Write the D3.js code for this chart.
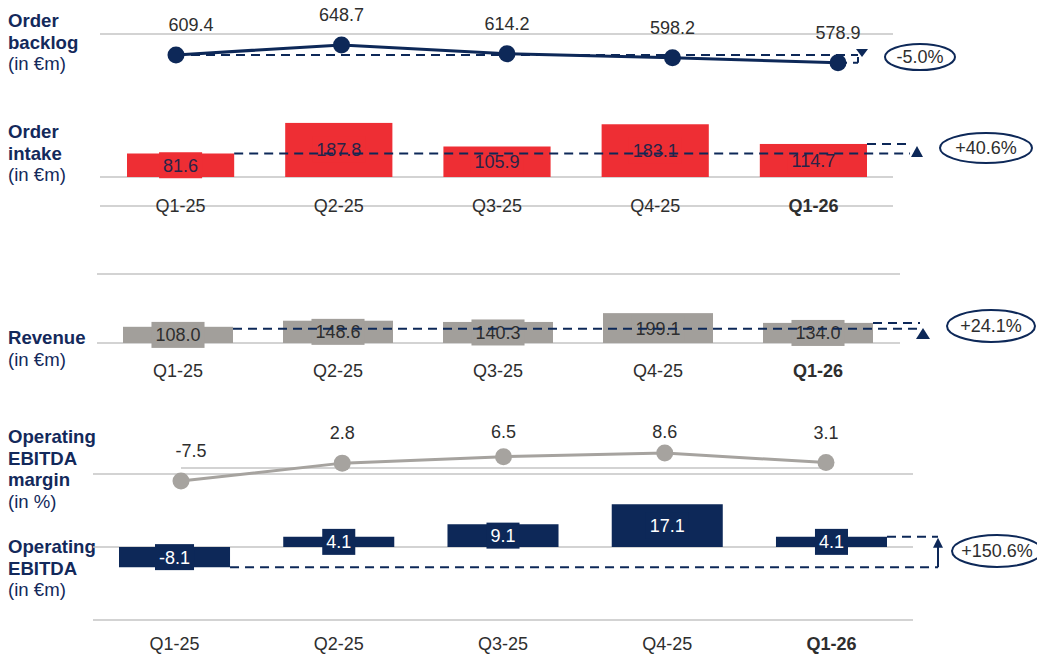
<!DOCTYPE html>
<html>
<head>
<meta charset="utf-8">
<script src="https://cdn.jsdelivr.net/npm/d3@7"></script>
<style>
  html, body { margin: 0; padding: 0; background: #fff; }
  svg { display: block; font-family: "Liberation Sans", Arial, sans-serif; }
</style>
</head>
<body>
<svg id="chart" width="1037" height="655"></svg>
<script>
// ---------------- DATA ----------------
const quarters = ["Q1-25", "Q2-25", "Q3-25", "Q4-25", "Q1-26"];
const orderBacklog = [609.4, 648.7, 614.2, 598.2, 578.9];
const orderIntake = [81.6, 187.8, 105.9, 183.1, 114.7];
const revenue = [108.0, 148.6, 140.3, 199.1, 134.0];
const ebitdaMargin = [-7.5, 2.8, 6.5, 8.6, 3.1];
const ebitda = [-8.1, 4.1, 9.1, 17.1, 4.1];
const changeLabels = ["-5.0%", "+40.6%", "+24.1%", "+150.6%"];
const rowTitles = [
  ["Order", "backlog", "(in €m)"],
  ["Order", "intake", "(in €m)"],
  ["Revenue", "(in €m)"],
  ["Operating", "EBITDA", "margin", "(in %)"],
  ["Operating", "EBITDA", "(in €m)"]
];

// ---------------- STYLE ----------------
const NAVY = "#0d2858", RED = "#ee2e34", GREY_BAR = "#a29f9b", GREY_LINE = "#a6a39f",
      RULE = "#c4c4c4", TXT = "#2e2e2e";
const FS = 18;
const svg = d3.select("#chart");
const fmt = v => v.toFixed(1);

function rule(x1, x2, y, w) {
  svg.append("line").attr("x1", x1).attr("x2", x2).attr("y1", y).attr("y2", y)
    .attr("stroke", RULE).attr("stroke-width", w || 1.6);
}
function dash(x1, y1, x2, y2) {
  svg.append("line").attr("x1", x1).attr("y1", y1).attr("x2", x2).attr("y2", y2)
    .attr("stroke", NAVY).attr("stroke-width", 2).attr("stroke-dasharray", "9,6");
}
function tri(cx, tip, base, hw) {
  svg.append("path").attr("d", `M${cx},${tip}L${cx - hw},${base}L${cx + hw},${base}Z`).attr("fill", NAVY);
}
function badge(cx, cy, rx, ry, text) {
  svg.append("ellipse").attr("cx", cx).attr("cy", cy).attr("rx", rx).attr("ry", ry)
    .attr("fill", "#fff").attr("stroke", NAVY).attr("stroke-width", 2);
  svg.append("text").attr("x", cx).attr("y", cy).attr("dy", "0.36em")
    .attr("text-anchor", "middle").attr("font-size", FS).attr("fill", TXT).text(text);
}
function titles(lines, y0) {
  const g = svg.append("g");
  lines.forEach((t, i) => {
    g.append("text").attr("x", 8).attr("y", y0 + i * 21.6)
      .attr("font-size", 18.6).attr("fill", "#13295b")
      .attr("font-weight", t.startsWith("(") ? "normal" : "bold").text(t);
  });
}
function categoryAxis(scale, y) {
  const g = svg.append("g").attr("transform", `translate(0,${y})`)
    .call(d3.axisBottom(scale).tickSize(0).tickPadding(0));
  g.select(".domain").remove();
  g.selectAll("text").attr("font-size", FS).attr("fill", TXT).attr("dy", 0)
    .attr("font-family", "Liberation Sans, Arial, sans-serif")
    .attr("font-weight", d => d === "Q1-26" ? "bold" : "normal");
}
function labelBoxes(data, xs, ys, fill, textFill) {
  const g = svg.append("g");
  data.forEach((v, i) => {
    const cx = xs(quarters[i]) + xs.bandwidth() / 2;
    const cy = (ys(v) + ys(0)) / 2;
    const t = g.append("text").attr("x", cx).attr("y", cy).attr("dy", "0.36em")
      .attr("text-anchor", "middle").attr("font-size", FS).attr("fill", textFill).text(fmt(v));
    const w = t.node().getComputedTextLength() + 8;
    g.insert("rect", "text").attr("x", cx - w / 2).attr("y", cy - 13).attr("width", w).attr("height", 26)
      .attr("fill", fill);
  });
  return g;
}

// ---------------- TITLES ----------------
titles(rowTitles[0], 27);
titles(rowTitles[1], 138);
titles(rowTitles[2], 344);
titles(rowTitles[3], 443);
titles(rowTitles[4], 553);

// ---------------- 1. ORDER BACKLOG ----------------
rule(100, 893, 34);
const xBl = d3.scalePoint().domain(quarters).range([176, 838]);
const yBl = d3.scaleLinear().domain([560, 660]).range([67.5, 42.1]);
dash(xBl(quarters[0]), yBl(orderBacklog[0]), 858, yBl(orderBacklog[0]));
dash(xBl(quarters[4]), yBl(orderBacklog[4]), 858, yBl(orderBacklog[4]));
dash(858, yBl(orderBacklog[0]) + 2, 858, yBl(orderBacklog[4]));
tri(862, 57, 49, 6);
svg.append("path").datum(orderBacklog)
  .attr("d", d3.line().x((d, i) => xBl(quarters[i])).y(d => yBl(d)))
  .attr("fill", "none").attr("stroke", NAVY).attr("stroke-width", 3);
svg.append("g").selectAll("circle").data(orderBacklog).join("circle")
  .attr("cx", (d, i) => xBl(quarters[i])).attr("cy", d => yBl(d)).attr("r", 8.5).attr("fill", NAVY);
svg.append("g").selectAll("text").data(orderBacklog).join("text")
  .attr("x", (d, i) => xBl(quarters[i]) + (i === 0 ? 15 : 0)).attr("y", d => yBl(d) - 24)
  .attr("text-anchor", "middle").attr("font-size", FS).attr("fill", TXT).text(d => fmt(d));
badge(920, 57, 35, 13, changeLabels[0]);

// ---------------- 2. ORDER INTAKE ----------------
const xIn = d3.scaleBand().domain(quarters).range([127, 867]).paddingInner(0.3225).paddingOuter(0);
const yIn = d3.scaleLinear().domain([0, 200]).range([177, 119.4]);
rule(100, 893, 177);
svg.append("g").selectAll("rect").data(orderIntake).join("rect")
  .attr("x", (d, i) => xIn(quarters[i])).attr("width", xIn.bandwidth())
  .attr("y", d => yIn(d)).attr("height", d => yIn(0) - yIn(d)).attr("fill", RED);
labelBoxes(orderIntake, xIn, yIn, RED, "#2a2347");
dash(xIn(quarters[0]) + xIn.bandwidth(), yIn(orderIntake[0]), 910, yIn(orderIntake[0]));
dash(xIn(quarters[4]) + xIn.bandwidth(), yIn(orderIntake[4]), 910, yIn(orderIntake[4]));
tri(917, 146, 157, 6);
badge(986, 148, 46, 15, changeLabels[1]);
rule(100, 893, 206);
categoryAxis(xIn, 212);

// ---------------- 3. REVENUE ----------------
const xRv = d3.scaleBand().domain(quarters).range([123, 873]).paddingInner(0.3125).paddingOuter(0);
const yRv = d3.scaleLinear().domain([0, 200]).range([343, 313]);
rule(97, 900, 274);
rule(97, 900, 343);
svg.append("g").selectAll("rect").data(revenue).join("rect")
  .attr("x", (d, i) => xRv(quarters[i])).attr("width", xRv.bandwidth())
  .attr("y", d => yRv(d)).attr("height", d => yRv(0) - yRv(d)).attr("fill", GREY_BAR);
labelBoxes(revenue, xRv, yRv, GREY_BAR, TXT);
dash(xRv(quarters[0]) + xRv.bandwidth(), yRv(revenue[0]) + 2, 920, yRv(revenue[0]) + 2);
dash(xRv(quarters[4]) + xRv.bandwidth(), yRv(revenue[4]), 920, yRv(revenue[4]));
tri(923, 328, 339, 7);
badge(991, 326, 44, 16, changeLabels[2]);
categoryAxis(xRv, 377);

// ---------------- 4. OPERATING EBITDA MARGIN ----------------
const xMg = d3.scalePoint().domain(quarters).range([181, 826]);
const yMg = d3.scaleLinear().domain([-10, 10]).range([485.4, 450.6]);
rule(93, 913, 474);
rule(xMg(quarters[0]), xMg(quarters[4]), yMg(0), 1.3);
svg.append("path").datum(ebitdaMargin)
  .attr("d", d3.line().x((d, i) => xMg(quarters[i])).y(d => yMg(d)))
  .attr("fill", "none").attr("stroke", GREY_LINE).attr("stroke-width", 3);
svg.append("g").selectAll("circle").data(ebitdaMargin).join("circle")
  .attr("cx", (d, i) => xMg(quarters[i])).attr("cy", d => yMg(d)).attr("r", 8.5).attr("fill", GREY_LINE);
svg.append("g").selectAll("text").data(ebitdaMargin).join("text")
  .attr("x", (d, i) => xMg(quarters[i]) + (i === 0 ? 10 : 0))
  .attr("y", d => Math.max(yMg(d) - 24, 438))
  .attr("text-anchor", "middle").attr("font-size", FS).attr("fill", TXT).text(d => fmt(d));

// ---------------- 5. OPERATING EBITDA ----------------
const xEb = d3.scaleBand().domain(quarters).range([119, 887]).paddingInner(0.324).paddingOuter(0);
const yEb = d3.scaleLinear().domain([-10, 20]).range([572, 497]);
rule(93, 913, 547);
svg.append("g").selectAll("rect").data(ebitda).join("rect")
  .attr("x", (d, i) => xEb(quarters[i])).attr("width", xEb.bandwidth())
  .attr("y", d => Math.min(yEb(d), yEb(0))).attr("height", d => Math.abs(yEb(0) - yEb(d))).attr("fill", NAVY);
labelBoxes(ebitda, xEb, yEb, NAVY, "#ffffff");
dash(xEb(quarters[0]) + xEb.bandwidth(), yEb(ebitda[0]), 938, yEb(ebitda[0]));
dash(xEb(quarters[4]) + xEb.bandwidth(), yEb(ebitda[4]), 938, yEb(ebitda[4]));
svg.append("line").attr("x1", 938).attr("x2", 938).attr("y1", yEb(ebitda[0])).attr("y2", yEb(ebitda[4]) + 8)
  .attr("stroke", NAVY).attr("stroke-width", 2);
tri(938, yEb(ebitda[4]) + 1, yEb(ebitda[4]) + 11, 5);
badge(997, 551, 45, 16, changeLabels[3]);
rule(93, 913, 620);
categoryAxis(xEb, 650);
</script>
</body>
</html>
